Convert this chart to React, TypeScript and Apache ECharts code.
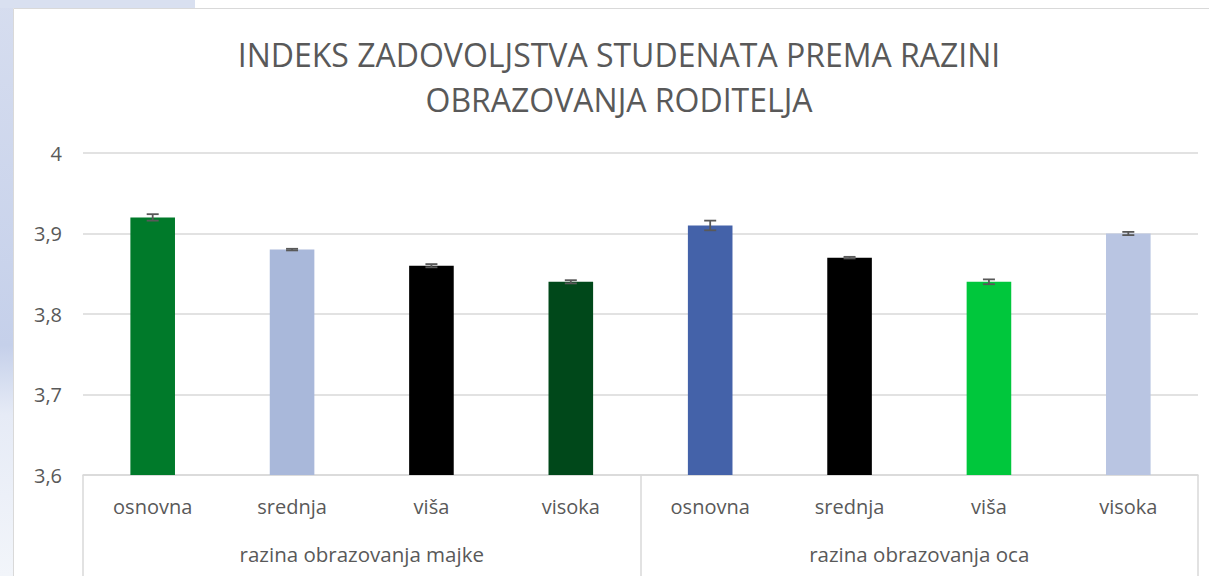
import React, { useEffect, useRef } from "react";
import * as echarts from "echarts";

const categories = ["osnovna", "srednja", "viša", "visoka", "osnovna", "srednja", "viša", "visoka"];
const groups = ["razina obrazovanja majke", "razina obrazovanja oca"];
const values = [3.92, 3.88, 3.86, 3.84, 3.91, 3.87, 3.84, 3.90];
const errors = [0.004, 0.001, 0.002, 0.002, 0.006, 0.001, 0.003, 0.002];
const barColors = ["#007A2A", "#A9B8DA", "#000000", "#00481A", "#4462A9", "#000000", "#00C73C", "#B9C5E2"];
const titleLines = ["INDEKS ZADOVOLJSTVA STUDENATA PREMA RAZINI", "OBRAZOVANJA RODITELJA"];

const FONT = "'Open Sans', sans-serif";
const TEXT = "#595959";

export default function App() {
  const ref = useRef<HTMLDivElement>(null);
  useEffect(() => {
    if (!ref.current) return;
    const chart = echarts.init(ref.current, null, { renderer: "svg" });
    const option: any = {
      animation: false,
      backgroundColor: "#ffffff",
      graphic: [
        {
          type: "rect",
          z: -10,
          shape: { x: 0, y: 0, width: 13, height: 576 },
          style: {
            fill: new echarts.graphic.LinearGradient(0, 0, 0, 1, [
              { offset: 0, color: "#D6DDEF" },
              { offset: 0.6, color: "#C5D0EA" },
              { offset: 0.72, color: "#E6EBF6" },
              { offset: 1, color: "#F2F5FA" },
            ]),
          },
          silent: true,
        },
        {
          type: "rect",
          z: -10,
          shape: { x: 0, y: 0, width: 195, height: 8 },
          style: { fill: "#D9E0F0" },
          silent: true,
        },
        {
          type: "rect",
          z: -9,
          shape: { x: 13.5, y: 8.5, width: 1200, height: 580 },
          style: { fill: "#ffffff", stroke: "#D9D9D9", lineWidth: 1 },
          silent: true,
        },
        {
          type: "text",
          x: 619,
          y: 54,
          style: {
            text: titleLines[0],
            fill: TEXT,
            font: `400 32px ${FONT}`,
            textAlign: "center",
            textVerticalAlign: "middle",
          },
        },
        {
          type: "text",
          x: 619,
          y: 99,
          style: {
            text: titleLines[1],
            fill: TEXT,
            font: `400 32px ${FONT}`,
            textAlign: "center",
            textVerticalAlign: "middle",
          },
        },
      ],
      grid: { left: 83, right: 11, top: 153, bottom: 101, containLabel: false },
      xAxis: [
        {
          type: "category",
          data: categories,
          position: "bottom",
          axisLine: { show: true, lineStyle: { color: "#D9D9D9", width: 1.5 } },
          axisTick: { show: false },
          axisLabel: { color: TEXT, fontSize: 20, fontFamily: FONT, margin: 21, interval: 0 },
        },
        {
          type: "category",
          data: groups,
          position: "bottom",
          axisLine: { show: false },
          axisTick: { show: true, length: 101, interval: 0, lineStyle: { color: "#D9D9D9", width: 1.5 } },
          axisLabel: { color: TEXT, fontSize: 20.5, fontFamily: FONT, margin: 68, interval: 0 },
        },
      ],
      yAxis: {
        type: "value",
        min: 3.6,
        max: 4,
        interval: 0.1,
        axisLine: { show: false },
        axisTick: { show: false },
        splitLine: { lineStyle: { color: "#D9D9D9", width: 1.5 } },
        axisLabel: {
          color: TEXT,
          fontSize: 20,
          fontFamily: FONT,
          margin: 21,
          formatter: (v: number) => {
            const r = Math.round(v * 10) / 10;
            return Number.isInteger(r) ? String(r) : r.toFixed(1).replace(".", ",");
          },
        },
      },
      series: [
        {
          type: "bar",
          xAxisIndex: 0,
          barWidth: "32%",
          data: values.map((v, i) => ({ value: v, itemStyle: { color: barColors[i] } })),
        },
        {
          type: "custom",
          xAxisIndex: 0,
          z: 5,
          data: values.map((v, i) => [i, v, errors[i]]),
          encode: { x: 0, y: 1 },
          renderItem: (params: any, api: any) => {
            const idx = api.value(0);
            const v = api.value(1);
            const e = api.value(2);
            const top = api.coord([idx, v + e]);
            const bot = api.coord([idx, v - e]);
            const hw = 6;
            const style = { stroke: "#595959", lineWidth: 1.8 };
            return {
              type: "group",
              children: [
                { type: "line", shape: { x1: top[0], y1: top[1], x2: bot[0], y2: bot[1] }, style },
                { type: "line", shape: { x1: top[0] - hw, y1: top[1], x2: top[0] + hw, y2: top[1] }, style },
                { type: "line", shape: { x1: bot[0] - hw, y1: bot[1], x2: bot[0] + hw, y2: bot[1] }, style },
              ],
            };
          },
        },
      ],
    };
    chart.setOption(option);
    return () => chart.dispose();
  }, []);
  return (
    <div
      ref={ref}
      style={{ position: "fixed", left: 0, top: 0, width: 1209, height: 576 }}
    />
  );
}
